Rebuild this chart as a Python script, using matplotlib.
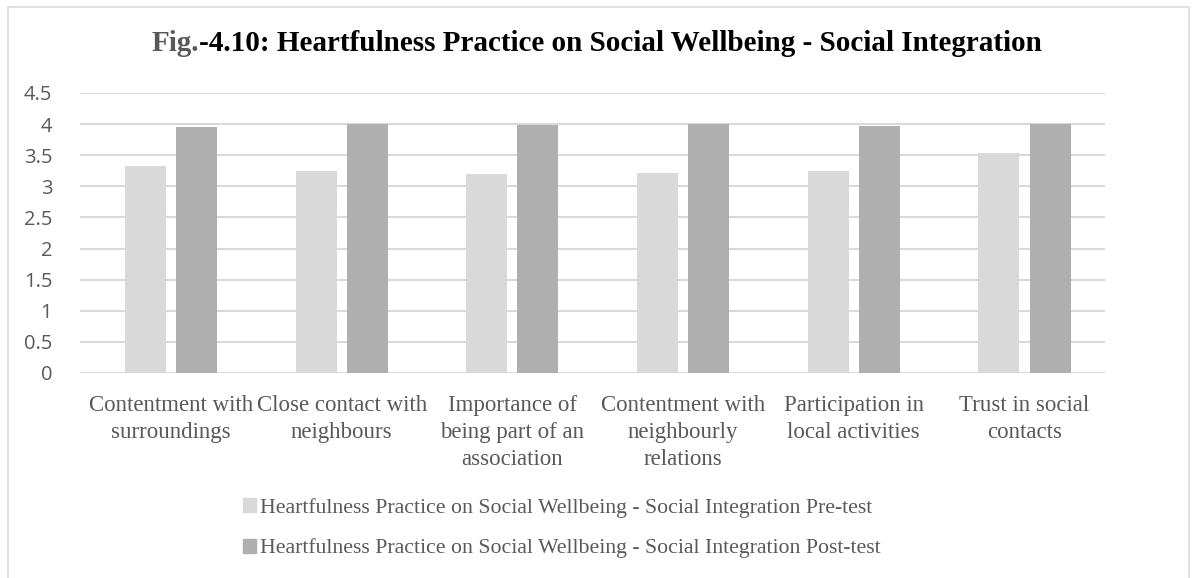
import matplotlib
matplotlib.use("Agg")
from matplotlib import pyplot as plt
from matplotlib.patches import Rectangle, Patch
import numpy as np

categories = ['Contentment with\nsurroundings', 'Close contact with\nneighbours',
              'Importance of\nbeing part of an\nassociation', 'Contentment with\nneighbourly\nrelations',
              'Participation in\nlocal activities', 'Trust in social\ncontacts']
pre_test = [3.33, 3.25, 3.20, 3.22, 3.24, 3.54]
post_test = [3.95, 4.00, 3.98, 4.00, 3.97, 4.00]
y_ticks = [0, 0.5, 1, 1.5, 2, 2.5, 3, 3.5, 4, 4.5]
y_labels = ['0', '0.5', '1', '1.5', '2', '2.5', '3', '3.5', '4', '4.5']
series_names = ['Heartfulness Practice on Social Wellbeing - Social Integration Pre-test',
                'Heartfulness Practice on Social Wellbeing - Social Integration Post-test']

W, H = 1194, 578
fig = plt.figure(figsize=(W / 100, H / 100), dpi=100)
fig.patches.append(Rectangle((8 / W, -0.05), (1189 - 8) / W, 1.05 - 7 / H, transform=fig.transFigure,
                             fill=False, edgecolor='#d9d9d9', linewidth=1.2))

ax = fig.add_axes([80 / W, (H - 373) / H, (1105 - 80) / W, (373 - 93) / H])
x = np.arange(len(categories))
ax.bar(x - 0.15, pre_test, width=0.24, color='#d9d9d9', zorder=3)
ax.bar(x + 0.15, post_test, width=0.24, color='#afafaf', zorder=3)

ax.set_xlim(-0.533, 5.472)
ax.set_ylim(0, 4.5)
ax.set_yticks(y_ticks)
ax.set_yticklabels(y_labels, fontfamily='Open Sans', fontsize=14.5, color='#595959')
ax.set_xticks(x)
ax.set_xticklabels(categories, fontfamily='Liberation Serif', fontsize=16.5, color='#595959',
                   linespacing=1.36, va='top')
ax.tick_params(length=0, axis='y', pad=20)
ax.tick_params(length=0, axis='x', pad=16)
ax.grid(axis='y', color='#d9d9d9', linewidth=1.5, zorder=0)
for s in ax.spines.values():
    s.set_visible(False)

# title: "Fig." grey, rest black
renderer = fig.canvas.get_renderer()
title_kw = dict(fontfamily='Liberation Serif', fontsize=21, fontweight='bold', va='baseline')
part1, part2 = 'Fig.', '-4.10: Heartfulness Practice on Social Wellbeing - Social Integration'
tmp = fig.text(0, 0, part1 + part2, **title_kw)
total_w = tmp.get_window_extent(renderer).width
tmp.remove()
t1 = fig.text(0, 0, part1, color='#595959', **title_kw)
w1 = t1.get_window_extent(renderer).width
x0 = 597 - total_w / 2
ty = (H - 51) / H
t1.set_position((x0 / W, ty))
fig.text((x0 + w1) / W, ty, part2, color='black', **title_kw)

handles = [Patch(color='#d9d9d9'), Patch(color='#afafaf')]
fig.legend(handles, series_names, loc='center', bbox_to_anchor=(562 / W, (H - 528) / H),
           ncol=1, frameon=False, prop={'family': 'Liberation Serif', 'size': 15.7},
           labelcolor='#595959', handlelength=0.6, handleheight=0.6, handletextpad=0.2,
           labelspacing=0.95)

fig.savefig('out.png', dpi=100)
